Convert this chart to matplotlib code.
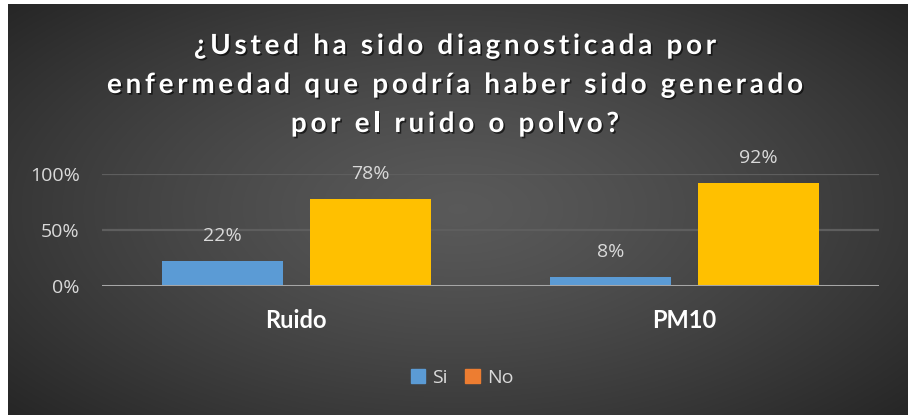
import numpy as np
import matplotlib.pyplot as plt
import matplotlib.patheffects as pe
from matplotlib.font_manager import FontProperties
from matplotlib.patches import Patch

plt.rcParams['font.family'] = ['Open Sans', 'DejaVu Sans']

# datos
categorias = ['Ruido', 'PM10']
si = [0.22, 0.08]
no = [0.78, 0.92]
etiquetas_si = ['22%', '8%']
etiquetas_no = ['78%', '92%']
ticks_y = [0, 0.5, 1.0]
ticks_y_txt = ['0%', '50%', '100%']
lineas_titulo = ['¿Usted ha sido diagnosticada por',
                 'enfermedad que podría haber sido generado',
                 'por el ruido o polvo?']

W, H = 912, 415
fig = plt.figure(figsize=(W / 100, H / 100), dpi=100)
fig.patch.set_facecolor('white')

# fondo con degradado radial
bg = fig.add_axes([8 / W, 0, 1 - 12 / W, 411 / H])
yy, xx = np.mgrid[-1:1:300j, -1:1:600j]
r = np.sqrt(xx ** 2 + (yy / 1.1) ** 2)
r = np.clip(r, 0, 1.35) / 1.35
val = 0.35 - 0.20 * r ** 1.3
bg.imshow(np.dstack([val, val, val]), aspect='auto', extent=[0, 1, 0, 1])
bg.axis('off')

ax = fig.add_axes([102 / W, 129.3 / H, 777 / W, 111.7 / H])
ax.set_facecolor('none')

x = np.arange(len(categorias))
ancho = 0.311
sep = 0.035
b1 = ax.bar(x - ancho / 2 - sep, si, ancho, color='#5B9BD5', label='Si', zorder=3)
b2 = ax.bar(x + ancho / 2 + sep, no, ancho, color='#FFC000', label='No', zorder=3)

for barras, txts in [(b1, etiquetas_si), (b2, etiquetas_no)]:
    for b, t in zip(barras, txts):
        ax.annotate(t, (b.get_x() + b.get_width() / 2, b.get_height()),
                    xytext=(0, 18), textcoords='offset points',
                    ha='center', va='center', color='#D9D9D9', fontsize=14,
                    annotation_clip=False)

ax.set_xlim(-0.5, 1.5)
ax.set_ylim(0, 1)
ax.set_yticks(ticks_y)
ax.set_yticklabels(ticks_y_txt)
ax.set_xticks(x)
ax.set_xticklabels(categorias, fontweight='bold', fontsize=17, color='white',
                   family=['Lato', 'DejaVu Sans'])
ax.tick_params(axis='y', length=0, pad=16, labelsize=14, labelcolor='#D9D9D9')
ax.tick_params(axis='x', length=0, pad=17)

for v in [0.5, 1.0]:
    ax.axhline(v, color='#5E5E5E', lw=1.6, zorder=1)
ax.axhline(0, color='#A6A6A6', lw=2.2, zorder=4)
for s in ax.spines.values():
    s.set_visible(False)

# titulo con espaciado entre letras (se coloca letra por letra)
fp = FontProperties(family=['Lato', 'DejaVu Sans'], weight='bold', size=20)
renderer = fig.canvas.get_renderer()


def ancho_txt(s):
    w, h, d = renderer.get_text_width_height_descent(s, fp, ismath=False)
    return w


espacio = (696 - ancho_txt(lineas_titulo[1])) / (len(lineas_titulo[1]) - 1)
sombra = [pe.withSimplePatchShadow(offset=(1.2, -1.2), shadow_rgbFace='black', alpha=0.6)]
for linea, base in zip(lineas_titulo, [54, 93, 132]):
    total = ancho_txt(linea) + espacio * (len(linea) - 1)
    x0 = 455 - total / 2
    for i, ch in enumerate(linea):
        if ch == ' ':
            continue
        px = x0 + ancho_txt(linea[:i]) + espacio * i
        fig.text(px / W, 1 - base / H, ch, fontproperties=fp, color='white',
                 ha='left', va='baseline', path_effects=sombra)

# leyenda con el color naranja del original
manijas = [Patch(color='#5B9BD5', label='Si'), Patch(color='#ED7D31', label='No')]
fig.legend(handles=manijas, loc='center', bbox_to_anchor=(462 / W, 1 - 378 / H),
           ncol=2, frameon=False, fontsize=14, labelcolor='#D9D9D9',
           handlelength=0.75, handleheight=0.75, handletextpad=0.35, columnspacing=0.9)

fig.savefig('out.png', dpi=100, facecolor=fig.get_facecolor())
